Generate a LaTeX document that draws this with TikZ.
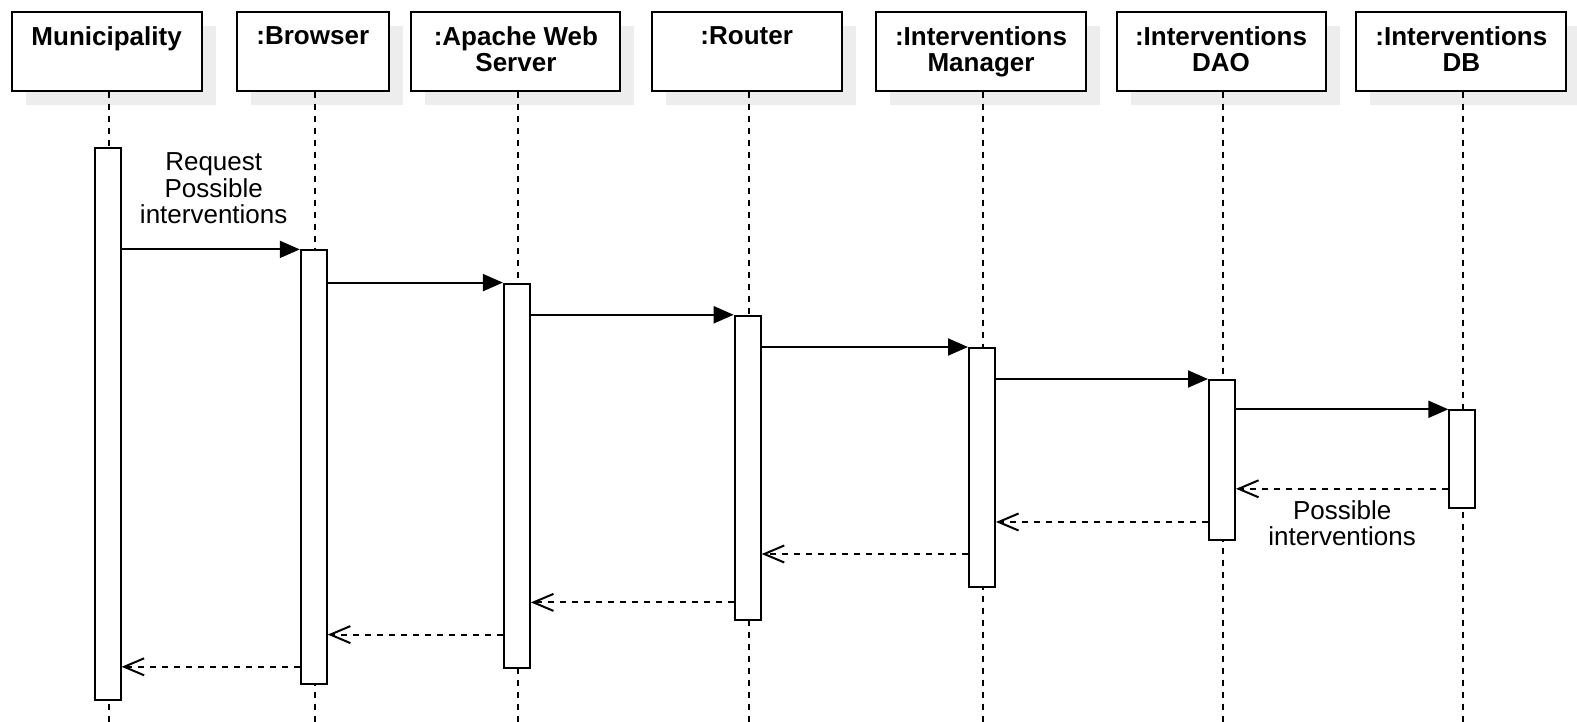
\documentclass[tikz,border=0pt]{standalone}
\usepackage{fontspec}
\setmainfont{Liberation Sans}
\usetikzlibrary{arrows.meta}
\usetikzlibrary{shadows}
\definecolor{boxColor}{HTML}{000000}
\definecolor{shadowColor}{HTML}{EDEDED}
\definecolor{lineColor}{HTML}{000000}
\newcommand\diagFont{\fontsize{26bp}{26.1bp}\selectfont}
\def\textA{Municipality}
\def\textB{:Browser}
\def\textC{:Apache Web\\Server}
\def\textD{:Router}
\def\textE{:Interventions\\Manager}
\def\textF{:Interventions\\DAO}
\def\textG{:Interventions\\DB}
\def\textCall{Request\\Possible\\interventions}
\def\textReply{Possible\\interventions}
\begin{document}
\begin{tikzpicture}[x=1bp,y=-1bp,
  lifeHead/.style={draw=boxColor, line width=2bp, fill=white, minimum height=78.5bp,
    anchor=north, inner sep=0pt,
    drop shadow={shadow xshift=14bp, shadow yshift=-14bp, fill=shadowColor, opacity=1}},
  headText/.style={anchor=north, font=\diagFont\bfseries, align=center, inner sep=0pt, yshift=-15bp},
  lifeLine/.style={color=lineColor, line width=2bp, dash pattern=on 6bp off 6bp},
  actBar/.style={draw=boxColor, line width=2bp, fill=white, minimum width=26bp, anchor=north, inner sep=0pt},
  callMsg/.style={color=lineColor, line width=2bp, -{Triangle[length=20bp,width=17bp]}},
  replyMsg/.style={color=lineColor, line width=2bp, dash pattern=on 6bp off 6bp,
    -{Straight Barb[length=20bp,width=17bp]}},
  msgText/.style={align=center, inner sep=0pt, font=\diagFont, text=black}
]
\useasboundingbox (0, 0) rectangle (1577, 722);

% head layer
\begin{scope}
\node[lifeHead, minimum width=190bp, label={[headText]north:{\textA}}] (headA) at (106.6, 11) {};
\node[lifeHead, minimum width=152bp, label={[headText]north:{\textB}}] (headB) at (312.8, 11) {};
\node[lifeHead, minimum width=209bp, label={[headText]north:{\textC}}] (headC) at (515.9, 11) {};
\node[lifeHead, minimum width=190bp, label={[headText]north:{\textD}}] (headD) at (746.7, 11) {};
\node[lifeHead, minimum width=210bp, label={[headText]north:{\textE}}] (headE) at (981, 11) {};
\node[lifeHead, minimum width=209bp, label={[headText]north:{\textF}}] (headF) at (1221, 11) {};
\node[lifeHead, minimum width=210bp, label={[headText]north:{\textG}}] (headG) at (1461.3, 11) {};
\end{scope}

% lifeline layer
\begin{scope}
\foreach \h in {headA, headB, headC, headD, headE, headF, headG}
  \draw[lifeLine] ([xshift=2bp]\h.south) -- ([xshift=2bp]\h.south |- 0, 722);
\end{scope}

% bar layer
\begin{scope}
\node[actBar, minimum height=552bp] (barA) at ([xshift=1bp]headA.south |- 0, 146.8) {};
\node[actBar, minimum height=433.5bp] (barB) at ([xshift=1bp]headB.south |- 0, 249.4) {};
\node[actBar, minimum height=384bp] (barC) at ([xshift=1bp]headC.south |- 0, 282.6) {};
\node[actBar, minimum height=303.7bp] (barD) at ([xshift=1bp]headD.south |- 0, 314.8) {};
\node[actBar, minimum height=239.4bp] (barE) at ([xshift=1bp]headE.south |- 0, 347) {};
\node[actBar, minimum height=160bp] (barF) at ([xshift=1bp]headF.south |- 0, 379) {};
\node[actBar, minimum height=97.5bp] (barG) at ([xshift=1bp]headG.south |- 0, 409.3) {};
\end{scope}

% call layer
\begin{scope}
\draw[callMsg] (barA.east |- barB.north) -- (barB.north west)
node[midway, above=25bp, xshift=3bp, msgText] {\textCall};
\draw[callMsg] (barB.east |- barC.north) -- (barC.north west);
\draw[callMsg] (barC.east |- barD.north) -- (barD.north west);
\draw[callMsg] (barD.east |- barE.north) -- (barE.north west);
\draw[callMsg] (barE.east |- barF.north) -- (barF.north west);
\draw[callMsg] (barF.east |- barG.north) -- (barG.north west);
\end{scope}

% reply layer
\begin{scope}
\draw[replyMsg] (barG.west |- 0, 488.8) -- (barF.east |- 0, 488.8)
node[midway, below=11bp, msgText] {\textReply};
\draw[replyMsg] (barF.west |- 0, 522) -- (barE.east |- 0, 522);
\draw[replyMsg] (barE.west |- 0, 554) -- (barD.east |- 0, 554);
\draw[replyMsg] (barD.west |- 0, 602.4) -- (barC.east |- 0, 602.4);
\draw[replyMsg] (barC.west |- 0, 634.6) -- (barB.east |- 0, 634.6);
\draw[replyMsg] (barB.west |- 0, 666.8) -- (barA.east |- 0, 666.8);
\end{scope}

\end{tikzpicture}
\end{document}
